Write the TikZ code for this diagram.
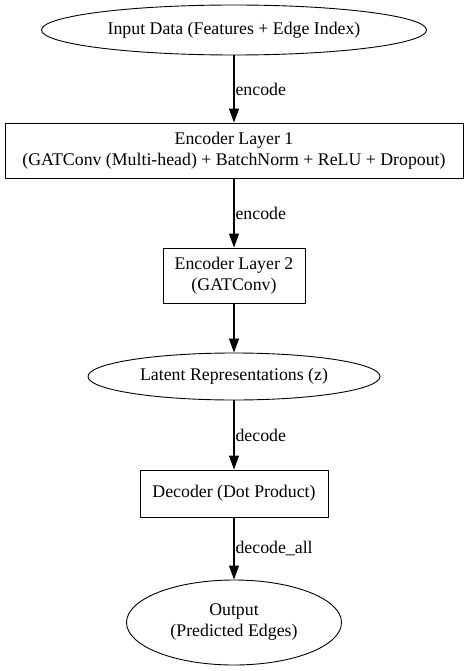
\documentclass[tikz,border=0pt]{standalone}
\usepackage{fontspec}
\setmainfont{Liberation Serif}
\usetikzlibrary{shapes.geometric,arrows.meta,positioning}

\begin{document}
\begin{tikzpicture}[x=1pt,y=1pt,on grid,auto,
  every node/.style={font=\fontsize{17.8}{21}\selectfont},
  layer/.style={draw,rectangle,line width=0.9pt,align=center,inner sep=0pt},
  oval/.style={draw,ellipse,line width=0.9pt,align=center,inner sep=0pt},
  flow/.style={-{Triangle[length=14pt,width=10pt]},line width=1.1pt},
  elabel/.style={anchor=west,inner sep=1pt}]
   \useasboundingbox (0,0) rectangle (468,-671);
   \node [oval,minimum width=385pt,minimum height=50pt] (input) at (234,-30) {Input Data (Features + Edge Index)};
   \node [layer,minimum width=458pt,minimum height=55pt] (enc1) [below=120.5pt of input] {Encoder Layer 1\\(GATConv (Multi-head) + BatchNorm + ReLU + Dropout)};
   \node [layer,minimum width=142pt,minimum height=55pt] (enc2) [below=125pt of enc1] {Encoder Layer 2\\(GATConv)};
   \node [oval,minimum width=292pt,minimum height=47pt] (latent) [below=101pt of enc2] {Latent Representations (z)};
   \node [layer,minimum width=188pt,minimum height=47pt] (dec) [below=117pt of latent] {Decoder (Dot Product)};
   \node [oval,minimum width=215pt,minimum height=85pt] (out) [below=129pt of dec] {Output\\(Predicted Edges)};
    \path[flow]
    (input) edge node[elabel] {encode} (enc1)
    (enc1) edge node[elabel] {encode} (enc2)
    (enc2) edge (latent)
    (latent) edge node[elabel] {decode} (dec)
    (dec) edge node[elabel] {decode\_all} (out);
\end{tikzpicture}
\end{document}
